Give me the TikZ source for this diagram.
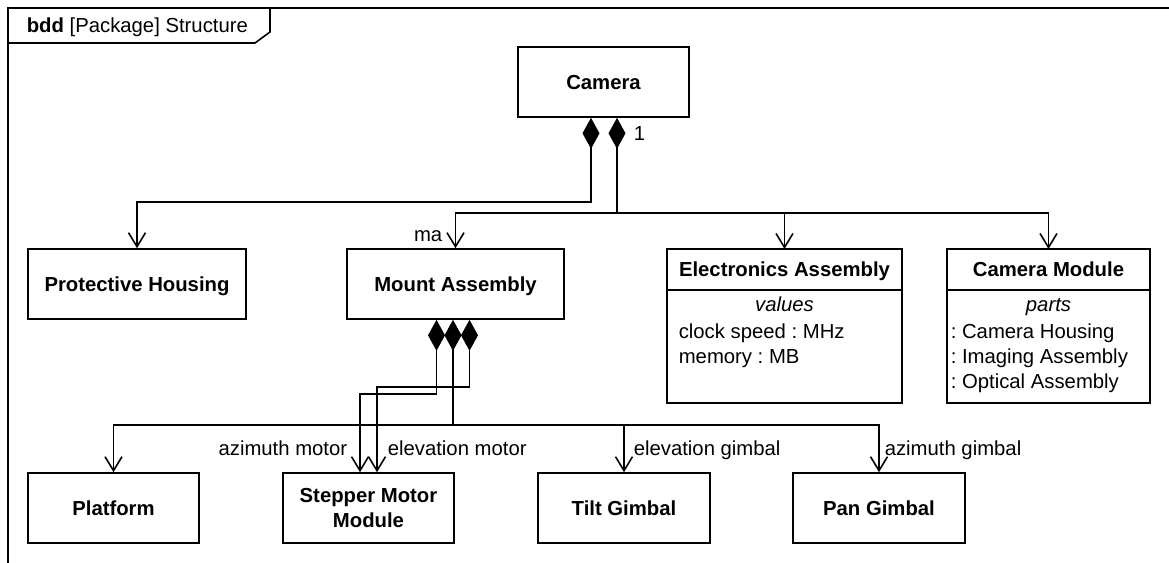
\documentclass[tikz,border=0pt]{standalone}
\usepackage{fontspec}
\setmainfont{Liberation Sans}
\frenchspacing
\usetikzlibrary{positioning,calc,arrows.meta}

\begin{document}
\begin{tikzpicture}[x=0.5pt, y=-0.5pt, line width=0.8pt,
        every node/.style={font=\fontsize{10.15}{12.2}\selectfont, inner sep=1pt},
        block/.style={draw, line width=0.8pt, minimum height=35pt, align=center,
                      font=\fontsize{10.15}{12.2}\selectfont\bfseries},
        onerow/.style={block, text height=7.3pt, text depth=0pt},
        head/.style={onerow, minimum height=20.5pt, outer sep=0pt},
        body/.style={draw, line width=0.8pt, minimum height=56.5pt, inner sep=0pt, outer sep=0pt},
        arr/.style={-{Straight Barb[length=7pt, width=8.5pt]}},
        comp/.style={{Diamond[length=15.5pt, width=8.5pt]}-},
        compto/.style={{Diamond[length=15.5pt, width=8.5pt]}-{Straight Barb[length=7pt, width=8.5pt]}},
    ]
    \useasboundingbox (0,0) rectangle (1169,563);

    % --- Frame ---
    \draw (8,563) -- (8,8) -- (1169,8);
    \draw (8,43) -- (255,43) -- (270,32) -- (270,8);
    \node[anchor=base west] (title) at (24,32) {\textbf{bdd} [Package] Structure};

    % --- Row 1 ---
    \node[onerow, minimum width=85.5pt] (camera) at (603.5,82) {Camera};

    % --- Row 2 ---
    \node[onerow, minimum width=109pt] (ph) at (137,284) {Protective Housing};
    \node[onerow, minimum width=108.5pt] (ma) at (455.5,284) {Mount Assembly};
    \node[head, minimum width=117.5pt] (ea) at (784.5,269.5) {Electronics Assembly};
    \node[body, minimum width=117.5pt, below=0pt of ea] (eabody) {};
    \node[head, minimum width=101.5pt] (cm) at (1048.5,269.5) {Camera Module};
    \node[body, minimum width=101.5pt, below=0pt of cm] (cmbody) {};

    \node[anchor=base] (eavalues) at (784.5,311) {\textit{values}};
    \node[anchor=base west] (eaclock) at (676,338) {clock speed : MHz};
    \node[anchor=base west] (eamem) at (676,363) {memory : MB};

    \node[anchor=base] (cmparts) at (1048.5,311) {\textit{parts}};
    \node[anchor=base west] (cmhousing) at (948,338) {: Camera Housing};
    \node[anchor=base west] (cmimaging) at (948,363) {: Imaging Assembly};
    \node[anchor=base west] (cmoptical) at (948,388) {: Optical Assembly};

    % --- Row 3 ---
    \node[onerow, minimum width=85.5pt] (platform) at (113.5,508) {Platform};
    \node[block, minimum width=85.5pt] (smm) at (368.5,508) {Stepper Motor\\Module};
    \node[onerow, minimum width=86pt] (tilt) at (624,508) {Tilt Gimbal};
    \node[onerow, minimum width=86pt] (pan) at (879,508) {Pan Gimbal};

    % --- Camera parts ---
    \draw[compto] ($(camera.south)+(-12.5,0)$) -- ++(0,84) -| (ph.north);
    \coordinate (jc) at ($(camera.south)+(13.5,95)$);
    \draw[comp] ($(camera.south)+(13.5,0)$) -- (jc);
    \draw[arr] (jc) -| (ma.north);
    \draw[arr] (jc) -| (ea.north);
    \draw[arr] (jc) -| (cm.north);
    \node[anchor=base west] (one) at (631,140) {1};
    \node[anchor=base east] (malabel) at (445,241) {ma};

    % --- Mount Assembly parts ---
    \draw[compto] ($(ma.south)+(-19,0)$) -- ++(0,74) -| ($(smm.north)+(-8.5,0)$);
    \draw[compto] ($(ma.south)+(14,0)$) -- ++(0,67) -| ($(smm.north)+(8.5,0)$);
    \coordinate (jm) at ($(ma.south)+(-2.5,105)$);
    \draw[comp] ($(ma.south)+(-2.5,0)$) -- (jm);
    \draw[arr] (jm) -| (platform.north);
    \draw[arr] (jm) -| (tilt.north);
    \draw[arr] (jm) -| (pan.north);

    \node[anchor=base east] (azmotor) at (350,455) {azimuth motor};
    \node[anchor=base west] (elmotor) at (385,455) {elevation motor};
    \node[anchor=base west] (elgimbal) at (631,455) {elevation gimbal};
    \node[anchor=base west] (azgimbal) at (882,455) {azimuth gimbal};
\end{tikzpicture}
\end{document}
